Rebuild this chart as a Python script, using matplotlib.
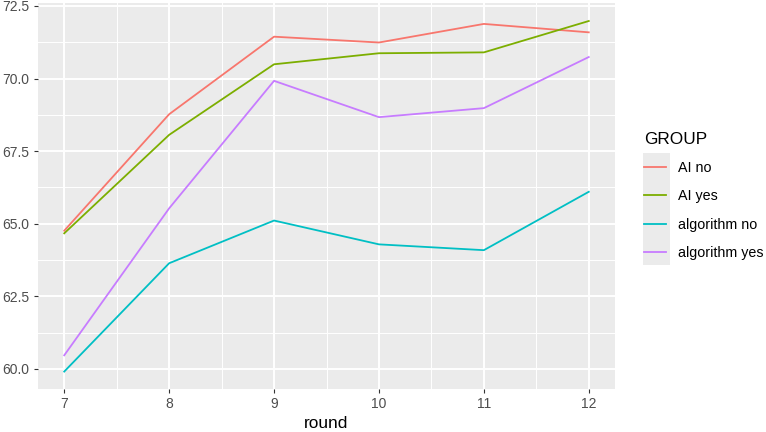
import matplotlib
matplotlib.use("Agg")
import matplotlib.pyplot as plt
from matplotlib.patches import Rectangle
from matplotlib.ticker import MultipleLocator

rounds = [7, 8, 9, 10, 11, 12]
groups = ["AI no", "AI yes", "algorithm no", "algorithm yes"]
ai_no = [64.76, 68.77, 71.44, 71.24, 71.88, 71.59]
ai_yes = [64.67, 68.06, 70.49, 70.87, 70.90, 71.98]
algorithm_no = [59.91, 63.64, 65.11, 64.29, 64.09, 66.10]
algorithm_yes = [60.47, 65.53, 69.92, 68.67, 68.98, 70.74]
colors = ["#F8766D", "#7CAE00", "#00BFC4", "#C77CFF"]
yticks = [60.0, 62.5, 65.0, 67.5, 70.0, 72.5]

plt.rcParams['font.family'] = ['Liberation Sans', 'DejaVu Sans']

W, H = 766, 432
fig = plt.figure(figsize=(W / 100, H / 100), dpi=100)
ax = fig.add_axes([38 / W, 1 - 389 / H, (615 - 38) / W, (389 - 3) / H])
ax.set_facecolor("#EBEBEB")
for s in ax.spines.values():
    s.set_visible(False)

series = [ai_no, ai_yes, algorithm_no, algorithm_yes]
for name, vals, c in zip(groups, series, colors):
    ax.plot(rounds, vals, color=c, lw=1.3, label=name, zorder=3)

ax.set_xlim(6.75, 12.25)
ax.set_ylim(59.31, 72.6)
ax.set_xticks(rounds)
ax.set_yticks(yticks)
ax.set_yticklabels([f"{v:.1f}" for v in yticks])
ax.xaxis.set_minor_locator(MultipleLocator(0.5))
ax.yaxis.set_minor_locator(MultipleLocator(1.25))
ax.grid(which="major", color="white", lw=1.4, zorder=1)
ax.grid(which="minor", color="white", lw=0.7, zorder=1)
ax.set_axisbelow(True)
ax.tick_params(which="major", length=3, width=0.8, color="#333333",
               labelcolor="#4D4D4D", labelsize=10, pad=3)
ax.tick_params(which="minor", length=0)
ax.set_xlabel("round", fontsize=12.4, color="black", labelpad=3)

# legend key background
fig.patches.append(Rectangle((643 / W, 1 - 265 / H), (670 - 643) / W, (265 - 153) / H,
                             transform=fig.transFigure, facecolor="#EBEBEB",
                             edgecolor="none", zorder=0))
leg = fig.legend(loc="upper left", bbox_to_anchor=(638 / W, 1 - 126 / H),
                 frameon=False, title="GROUP", fontsize=10.3, title_fontsize=12.4,
                 handlelength=1.55, handletextpad=0.85, labelspacing=1.0,
                 borderaxespad=0)
leg._legend_box.align = "left"

fig.savefig("out.png", dpi=100)
